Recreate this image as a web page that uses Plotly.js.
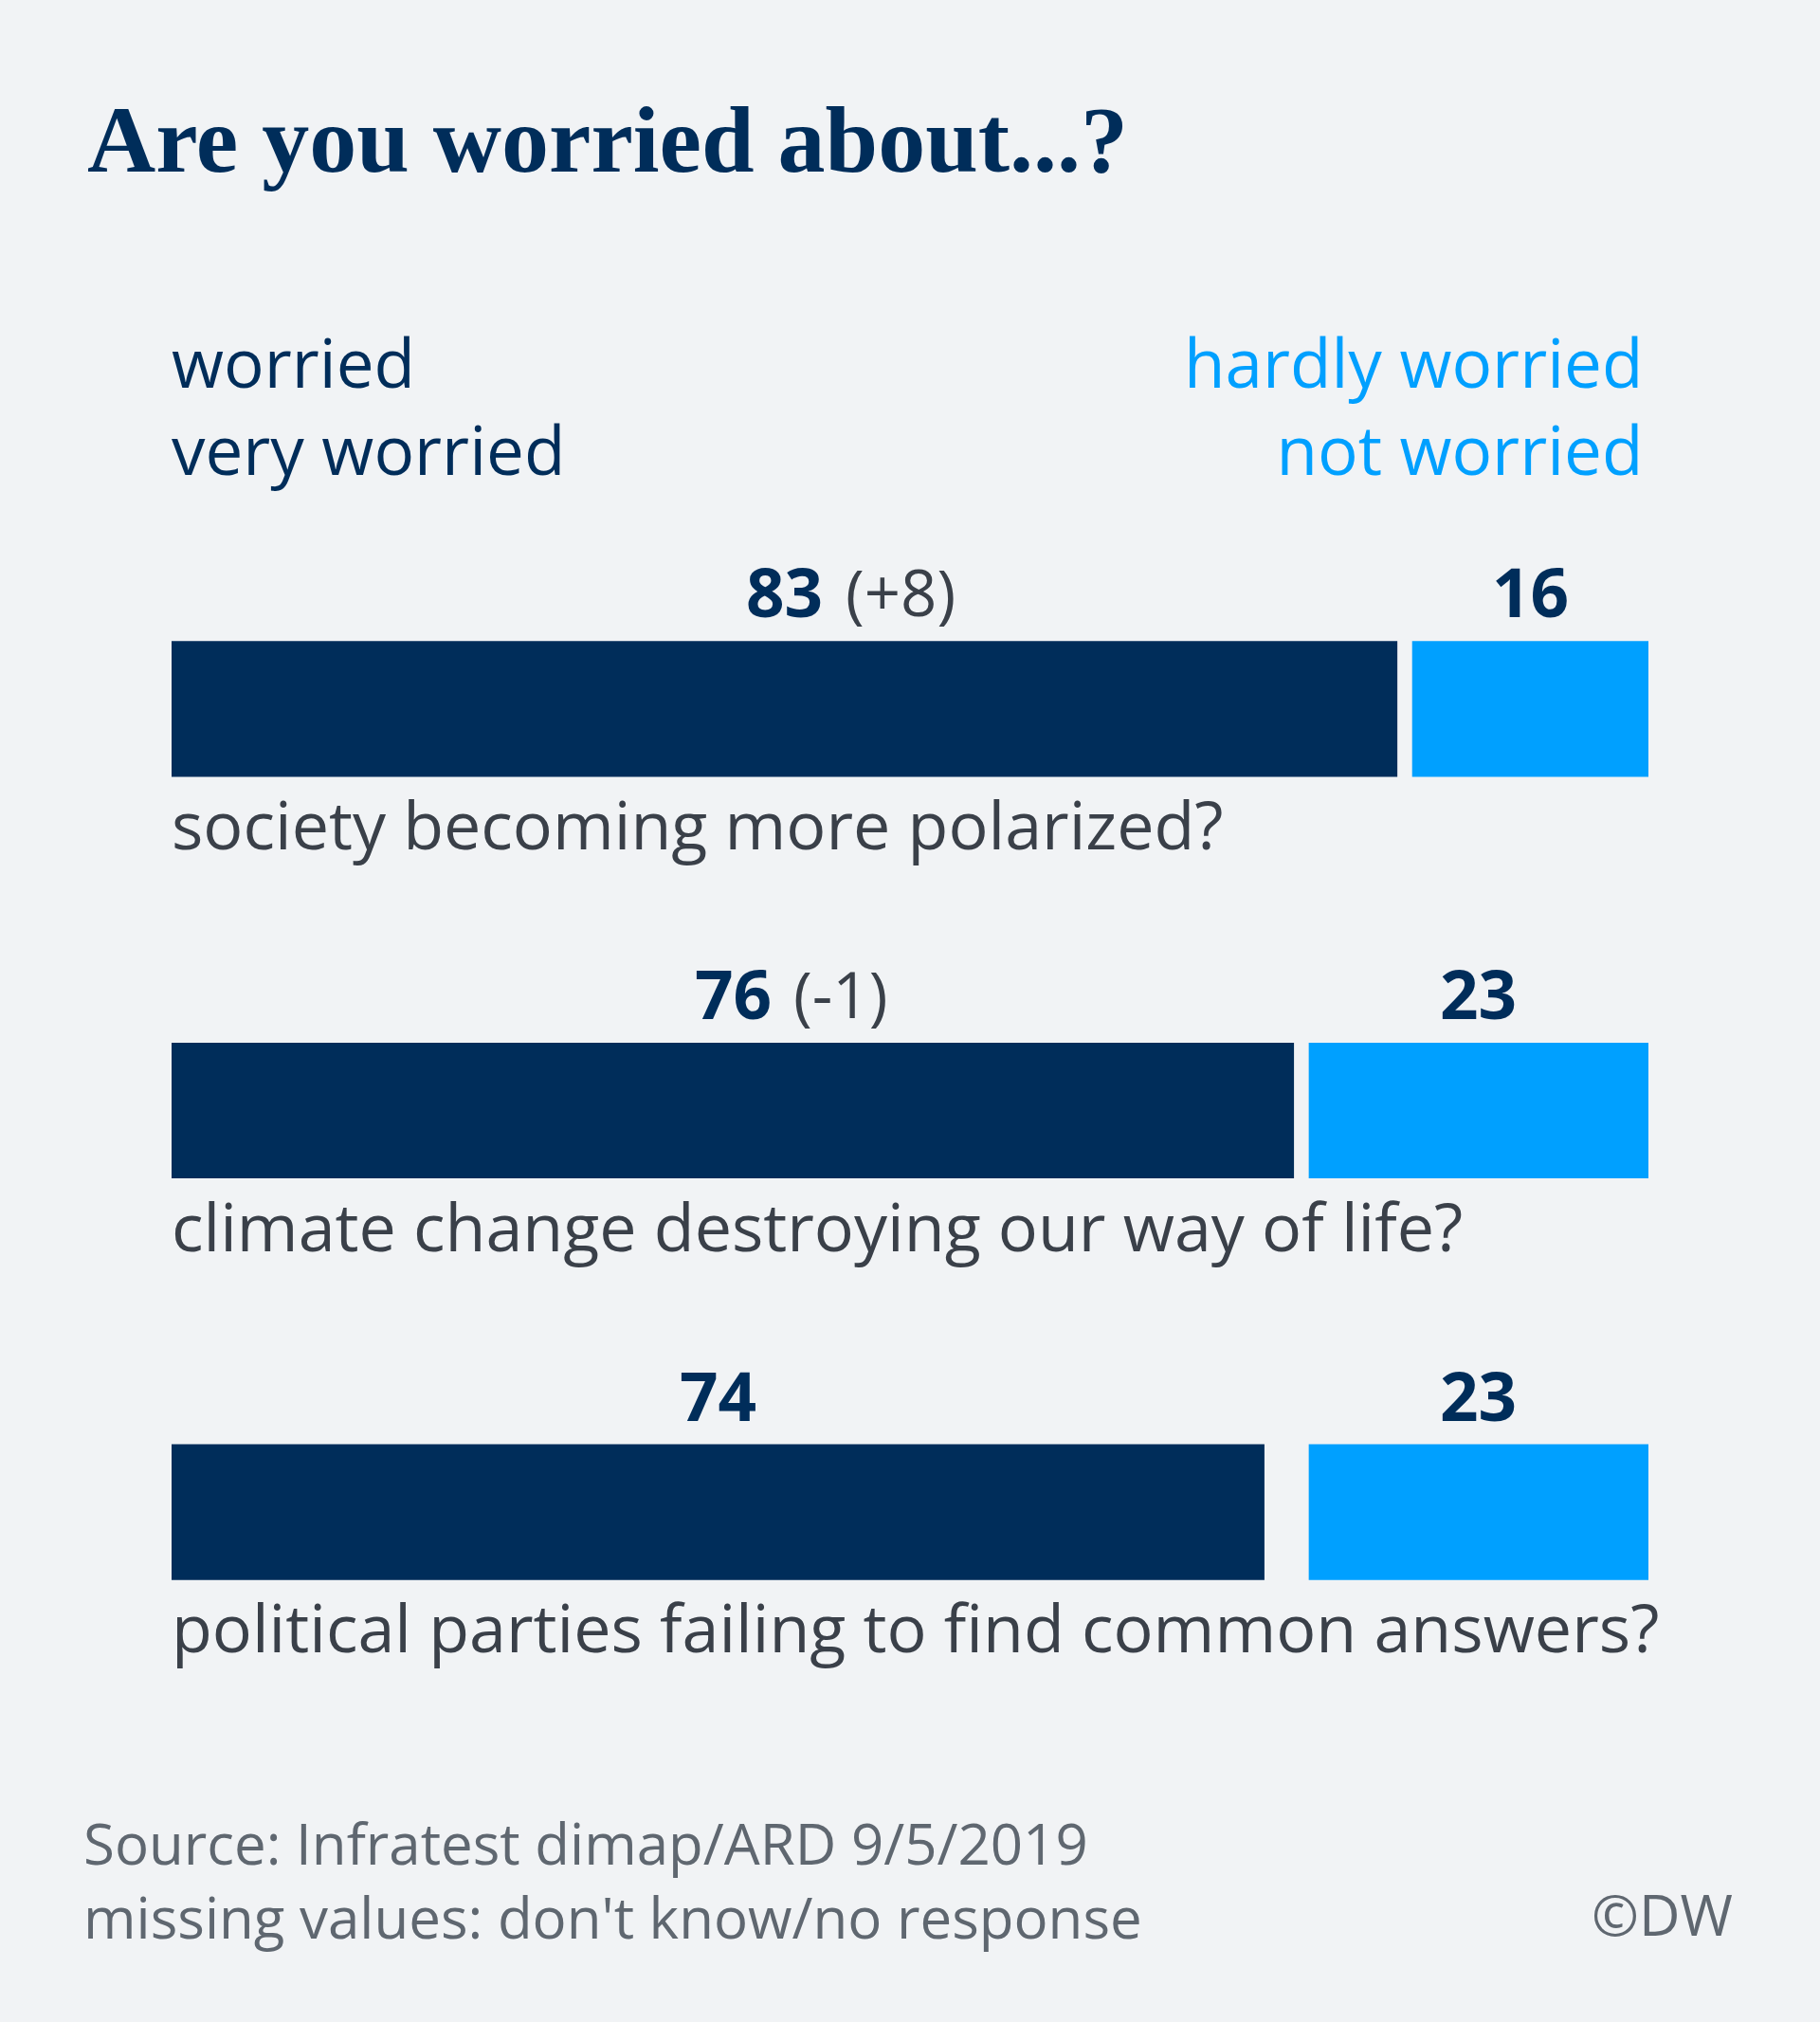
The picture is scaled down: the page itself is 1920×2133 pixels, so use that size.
<!DOCTYPE html>
<html>
<head>
<meta charset="utf-8">
<script src="https://cdn.plot.ly/plotly-3.0.1.min.js"></script>
<style>
html,body{margin:0;padding:0;background:#f1f3f5;}
#chart{width:1920px;height:2133px;}
</style>
</head>
<body>
<div id="chart"></div>
<script>
// ---- data ----
const categories = [
  "society becoming more polarized?",
  "climate change destroying our way of life?",
  "political parties failing to find common answers?"
];
const worried = [83, 76, 74];
const notWorried = [16, 23, 23];
const changes = ["(+8)", "(-1)", ""];
const titleText = "Are you worried about...?";
const legendLeft = ["worried", "very worried"];
const legendRight = ["hardly worried", "not worried"];
const sourceLines = ["Source: Infratest dimap/ARD 9/5/2019", "missing values: don't know/no response"];
const credit = "©DW";

// ---- style ----
const W = 1920, H = 2133;
const DARK = "#002d5a", LIGHT = "#00a0ff", GREY = "#3a4049", FOOT = "#5f6770", BG = "#f1f3f5";
const mL = 181, mR = 181, mT = 536, mB = 326;
const plotW = W - mL - mR, plotH = H - mT - mB;
const px2x = p => (p - mL) / plotW;
const py2y = p => (H - mB - p) / plotH;
const SANS = "Open Sans, Noto Sans, sans-serif";

const idx = categories.map((_, i) => i);

const traces = [
  {
    type: "bar", orientation: "h",
    y: idx, x: worried, base: worried.map(() => 0),
    width: 0.338,
    marker: {color: DARK, line: {width: 0}},
    hoverinfo: "skip"
  },
  {
    type: "bar", orientation: "h",
    y: idx, x: notWorried, base: notWorried.map(v => 100 - v),
    width: 0.338,
    marker: {color: LIGHT, line: {width: 0}},
    hoverinfo: "skip"
  }
];

const ann = [];
idx.forEach(i => {
  ann.push({
    x: worried[i] / 2, y: i, xref: "x", yref: "y",
    text: "<b>" + worried[i] + "</b>", showarrow: false,
    xanchor: "center", yanchor: "middle", yshift: 124,
    font: {family: SANS, size: 71, color: DARK}
  });
  if (changes[i]) {
    ann.push({
      x: worried[i] / 2, y: i, xref: "x", yref: "y",
      text: changes[i], showarrow: false,
      xanchor: "left", yanchor: "middle", yshift: 124, xshift: 62,
      font: {family: SANS, size: 67, color: GREY}
    });
  }
  ann.push({
    x: 100 - notWorried[i] / 2, y: i, xref: "x", yref: "y",
    text: "<b>" + notWorried[i] + "</b>", showarrow: false,
    xanchor: "center", yanchor: "middle", yshift: 124,
    font: {family: SANS, size: 71, color: DARK}
  });
  ann.push({
    x: 0, y: i, xref: "x", yref: "y",
    text: categories[i], showarrow: false,
    xanchor: "left", yanchor: "middle", yshift: -121, xshift: -2,
    font: {family: SANS, size: 70, color: GREY}
  });
});

// legend headers (two lines each)
ann.push({
  x: 0, y: py2y(427), xref: "x", yref: "paper",
  text: legendLeft.join("<br>"), showarrow: false, align: "left",
  xanchor: "left", yanchor: "middle", xshift: -2,
  font: {family: SANS, size: 71, color: DARK}
});
ann.push({
  x: px2x(1735), y: py2y(427), xref: "paper", yref: "paper",
  text: legendRight.join("<br>"), showarrow: false, align: "right",
  xanchor: "right", yanchor: "middle",
  font: {family: SANS, size: 71, color: LIGHT}
});

// footer
ann.push({
  x: px2x(86), y: py2y(1983), xref: "paper", yref: "paper",
  text: sourceLines.join("<br>"), showarrow: false, align: "left",
  xanchor: "left", yanchor: "middle",
  font: {family: SANS, size: 60, color: FOOT}
});
ann.push({
  x: px2x(1830), y: py2y(2019), xref: "paper", yref: "paper",
  text: credit, showarrow: false, xanchor: "right", yanchor: "middle",
  font: {family: SANS, size: 60, color: FOOT}
});

const layout = {
  width: W, height: H,
  paper_bgcolor: BG, plot_bgcolor: BG,
  margin: {l: mL, r: mR, t: mT, b: mB, pad: 0},
  showlegend: false,
  barmode: "overlay",
  title: {
    text: "<b>" + titleText + "</b>",
    xref: "container", yref: "container",
    x: 92 / W, xanchor: "left",
    y: 1 - 146 / H, yanchor: "middle",
    font: {family: "Liberation Serif, DejaVu Serif, serif", size: 100, color: DARK}
  },
  xaxis: {range: [0, 100], visible: false, fixedrange: true},
  yaxis: {range: [2.5, -0.5], visible: false, fixedrange: true},
  annotations: ann
};

Plotly.newPlot("chart", traces, layout, {displayModeBar: false, staticPlot: true});
</script>
</body>
</html>
